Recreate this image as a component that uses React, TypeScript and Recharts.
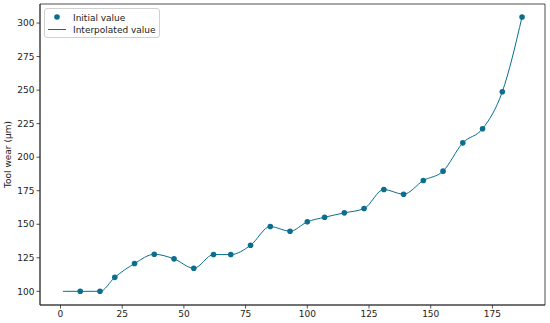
import React from "react";
import { ComposedChart, Line, Scatter, XAxis, YAxis, ReferenceArea } from "recharts";

const cuttingPoints = [8, 16, 22, 30, 38, 46, 54, 62, 69, 77, 85, 93, 100, 107, 115, 123, 131, 139, 147, 155, 163, 171, 179, 187];
const wearValues = [100, 100, 110.4, 120.7, 127.6, 124.2, 117.2, 127.4, 127.4, 134.3, 148.3, 144.8, 151.8, 155.2, 158.5, 161.7, 175.9, 172.4, 182.6, 189.6, 210.7, 221.2, 248.8, 304.5];
const startPoint = { x: 1, y: 100 };
const xTicks = [0, 25, 50, 75, 100, 125, 150, 175];
const yTicks = [100, 125, 150, 175, 200, 225, 250, 275, 300];
const legendLabels = ["Initial value", "Interpolated value"];

const COLOR = "#0b6e8e";
const FONT = "DejaVu Sans";

const scatterData = cuttingPoints.map((x, i) => ({ x, y: wearValues[i] }));
const lineData = [startPoint, ...scatterData];

const LegendBox = () => (
  <div
    style={{
      position: "absolute",
      left: 44,
      top: 8,
      border: "1px solid #d0d0d0",
      borderRadius: 3,
      background: "rgba(255,255,255,0.8)",
      width: 114,
      height: 28,
    }}
  >
    <svg width={114} height={28} style={{ position: "absolute", left: 0, top: 0 }}>
      <circle cx={12} cy={8} r={2.8} fill={COLOR} />
      <line x1={3} x2={21} y1={20.5} y2={20.5} stroke={COLOR} strokeWidth={1} />
      <text x={28} y={11.5} fontSize={9} fontFamily={FONT} fill="#222">{legendLabels[0]}</text>
      <text x={28} y={24} fontSize={9} fontFamily={FONT} fill="#222">{legendLabels[1]}</text>
    </svg>
  </div>
);

export default function App() {
  return (
    <div style={{ position: "absolute", left: 0, top: 0, width: 550, height: 323, background: "#fff" }}>
      <ComposedChart width={550} height={323} margin={{ top: 4, right: 5, bottom: 0, left: 0 }}>
        <XAxis
          type="number"
          dataKey="x"
          domain={[-8.3, 196.3]}
          ticks={xTicks}
          allowDataOverflow
          height={18}
          tickSize={3.5}
          tickMargin={2}
          stroke="#222"
          strokeWidth={0.8}
          tick={{ fontSize: 9, fontFamily: FONT, fill: "#222" }}
        />
        <YAxis
          type="number"
          dataKey="y"
          domain={[89.8, 314.2]}
          ticks={yTicks}
          allowDataOverflow
          width={40}
          tickSize={3.5}
          tickMargin={2}
          stroke="#222"
          strokeWidth={0.8}
          tick={{ fontSize: 9, fontFamily: FONT, fill: "#222" }}
          label={{ value: "Tool wear (μm)", angle: -90, position: "insideLeft", offset: 8, style: { fontSize: 9, fontFamily: FONT, fill: "#222", textAnchor: "middle" } }}
        />
        <ReferenceArea x1={-8.3} x2={196.3} y1={89.8} y2={314.2} fill="none" stroke="#222" strokeWidth={0.8} ifOverflow="visible" />
        <Line
          data={lineData}
          dataKey="y"
          type="monotone"
          stroke={COLOR}
          strokeWidth={1}
          dot={false}
          activeDot={false}
          isAnimationActive={false}
          legendType="none"
        />
        <Scatter
          data={scatterData}
          dataKey="y"
          fill={COLOR}
          shape={(p: any) => <circle cx={p.cx} cy={p.cy} r={2.8} fill={COLOR} />}
          isAnimationActive={false}
        />
      </ComposedChart>
      <LegendBox />
    </div>
  );
}
